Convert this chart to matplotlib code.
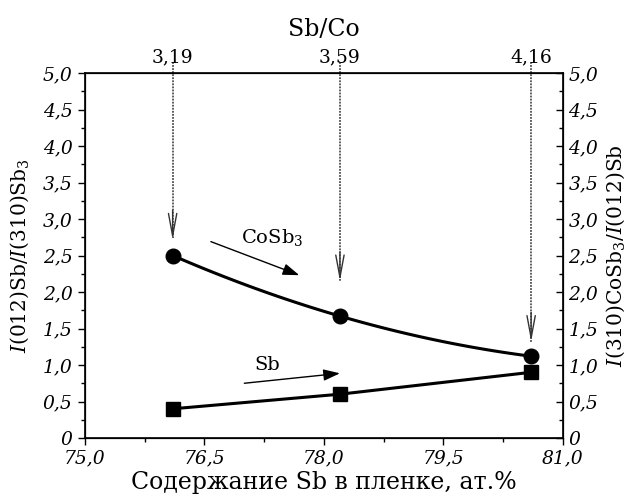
import numpy as np
import matplotlib
matplotlib.use("Agg")
import matplotlib.pyplot as plt
from matplotlib.ticker import FixedLocator, MultipleLocator, FuncFormatter

plt.rcParams['font.family'] = ['DejaVu Serif']
plt.rcParams['mathtext.fontset'] = 'dejavuserif'

# Sb content in film, at.% and corresponding Sb/Co ratio
sb_content = [76.1, 78.2, 80.6]
sb_co_labels = ["3,19", "3,59", "4,16"]
# Intensity ratios
cosb3_ratio = [2.50, 1.67, 1.12]
sb_ratio = [0.40, 0.60, 0.90]
# tips of the dotted pointers from the top scale
pointer_tips = [2.72, 2.15, 1.32]

fig = plt.figure(figsize=(6.3, 5.04), dpi=100)
ax = fig.add_axes([85/630, 66/504, (563-85)/630, (438-73)/504])

# CoSb3: smooth curve through the points
c = np.polyfit(sb_content, cosb3_ratio, 2)
xs = np.linspace(sb_content[0], sb_content[-1], 100)
ax.plot(xs, np.polyval(c, xs), color='black', lw=2.2, zorder=3)
ax.plot(sb_content, cosb3_ratio, 'o', color='black', ms=10.5, zorder=4)

ax.plot(sb_content, sb_ratio, '-', color='black', lw=2.2, zorder=3)
ax.plot(sb_content, sb_ratio, 's', color='black', ms=9.5, zorder=4)

ax.set_xlim(75.0, 81.0)
ax.set_ylim(0, 5.0)

def comma(v, pos=None):
    if abs(v) < 1e-9:
        return "0"
    return f"{v:.1f}".replace('.', ',')

ax.xaxis.set_major_locator(MultipleLocator(1.5))
ax.xaxis.set_minor_locator(MultipleLocator(0.75))
ax.yaxis.set_major_locator(MultipleLocator(0.5))
ax.yaxis.set_minor_locator(MultipleLocator(0.25))
ax.xaxis.set_major_formatter(FuncFormatter(comma))
ax.yaxis.set_major_formatter(FuncFormatter(comma))
ax.tick_params(axis='both', which='major', direction='out', length=5, width=1,
               labelsize=13.5)
ax.tick_params(axis='y', which='major', pad=4)
ax.tick_params(axis='both', which='minor', direction='out', length=3, width=1)
for lab in ax.get_xticklabels() + ax.get_yticklabels():
    lab.set_fontstyle('italic')
for s in ax.spines.values():
    s.set_linewidth(1.2)

ax.set_xlabel("Содержание Sb в пленке, ат.%", fontsize=17, labelpad=2)
ax.set_ylabel(r"$\mathit{I}$(012)Sb/$\mathit{I}$(310)Sb$_3$", fontsize=14.5)
ax.yaxis.set_label_coords(-0.113, 0.5)

# right axis
axr = ax.twinx()
axr.set_ylim(0, 5.0)
axr.yaxis.set_major_locator(MultipleLocator(0.5))
axr.yaxis.set_minor_locator(MultipleLocator(0.25))
axr.yaxis.set_major_formatter(FuncFormatter(comma))
axr.tick_params(axis='y', which='major', direction='in', length=5, width=1,
                labelsize=13.5, pad=4)
axr.tick_params(axis='y', which='minor', direction='in', length=3, width=1)
for lab in axr.get_yticklabels():
    lab.set_fontstyle('italic')
axr.set_ylabel(r"$\mathit{I}$(310)CoSb$_3$/$\mathit{I}$(012)Sb", fontsize=14.5)
axr.yaxis.set_label_coords(1.086, 0.5)

# top axis: Sb/Co ratio
axt = ax.twiny()
axt.set_xlim(75.0, 81.0)
axt.xaxis.set_major_locator(FixedLocator(sb_content))
axt.set_xticklabels(sb_co_labels, fontsize=13.5)
axt.xaxis.set_minor_locator(FixedLocator([]))
axt.tick_params(axis='x', which='major', length=0, pad=5)
axt.set_xlabel("Sb/Co", fontsize=17, labelpad=9)

# dotted pointers from the top scale
for xv, tip in zip(sb_content, pointer_tips):
    ax.plot([xv, xv], [5.15, tip], color='#333333', lw=1.1,
            ls=(0, (1.2, 0.8)), clip_on=False, zorder=2)
    ax.annotate("", xy=(xv, tip), xytext=(xv, tip + 0.4),
                arrowprops=dict(arrowstyle='->, head_length=1.6, head_width=0.3',
                                color='#333333', lw=1.0, shrinkA=0, shrinkB=0))

# series labels with arrows
ax.annotate("", xy=(77.69, 2.23), xytext=(76.58, 2.69),
            arrowprops=dict(arrowstyle='-|>, head_length=1.0, head_width=0.35',
                            color='black', lw=1.0, shrinkA=0, shrinkB=0))
ax.text(77.35, 2.74, r"CoSb$_3$", fontsize=14, ha='center', va='center')

ax.annotate("", xy=(78.2, 0.886), xytext=(77.0, 0.75),
            arrowprops=dict(arrowstyle='-|>, head_length=1.0, head_width=0.35',
                            color='black', lw=1.0, shrinkA=0, shrinkB=0))
ax.text(77.29, 1.0, "Sb", fontsize=14, ha='center', va='center')

fig.savefig("out.png", dpi=100)
